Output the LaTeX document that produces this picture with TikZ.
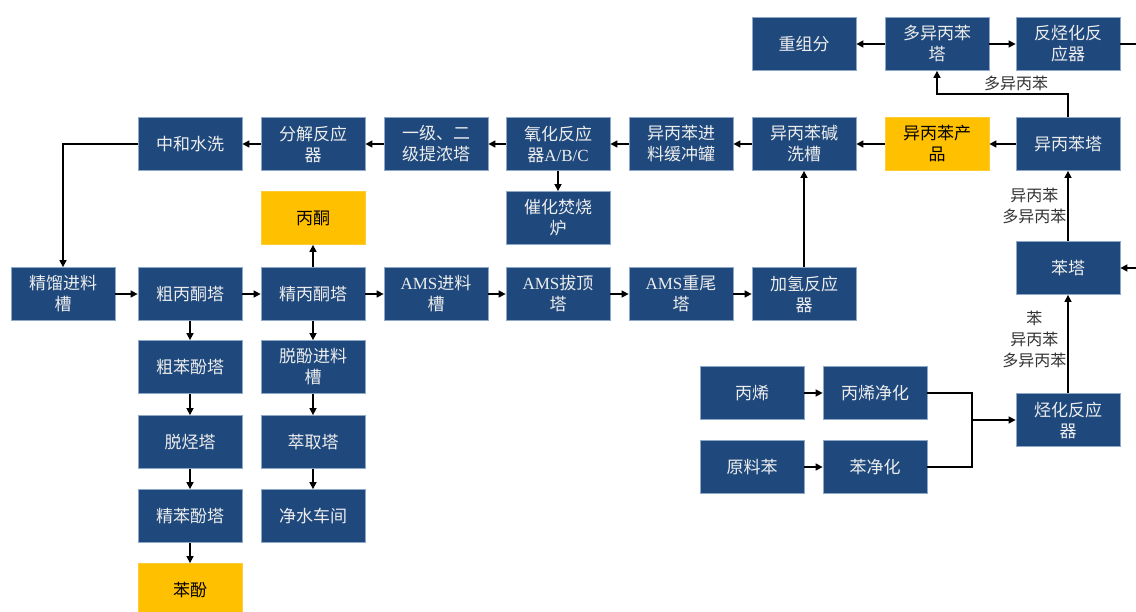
\documentclass[tikz,border=0pt]{standalone}
\usepackage{fontspec}
\setmainfont{Liberation Serif}
\newfontfamily\cjk{Noto Sans CJK SC}
\newcommand\latn[1]{{\rmfamily #1}}
\usetikzlibrary{arrows.meta}
\definecolor{boxblue}{HTML}{1F497D}
\definecolor{boxedge}{HTML}{8EA9C8}
\definecolor{prodyellow}{HTML}{FFC000}
\definecolor{labgray}{HTML}{333333}
\tikzset{
  box/.style={draw=boxedge, line width=0.8pt, fill=boxblue, text=white!93!black,
    minimum width=104pt, minimum height=53pt, align=center, inner sep=0pt,
    font=\cjk\fontsize{17}{21}\selectfont},
  prod/.style={box, fill=prodyellow, draw=prodyellow!80!white, text=black},
  arr/.style={line width=1.5pt, -{Triangle[length=7pt,width=7pt]}},
  ln/.style={line width=1.5pt},
  flowlab/.style={font=\cjk\fontsize{16}{21}\selectfont, text=labgray, align=center, inner sep=1pt}
}
\begin{document}
\begin{tikzpicture}[x=1pt,y=-1pt]
\useasboundingbox (0,0) rectangle (1136,612);
% row 1
\node[box] (zzf) at (804,44) {重组分};
\node[box] (dyb) at (937,44) {多异丙苯\\塔};
\node[box] (fth) at (1068,44) {反烃化反\\应器};
% row 2
\node[box] (zhsx) at (190,144) {中和水洗};
\node[box] (fjfy) at (313,144) {分解反应\\器};
\node[box] (tnt) at (436,144) {一级、二\\级提浓塔};
\node[box] (yhfy) at (558,144) {氧化反应\\器\latn{A/B/C}};
\node[box] (jlhc) at (681,144) {异丙苯进\\料缓冲罐};
\node[box] (jxc) at (804,144) {异丙苯碱\\洗槽};
\node[prod] (ycp) at (937,144) {异丙苯产\\品};
\node[box] (ycbt) at (1068,144) {异丙苯塔};
% middle
\node[box] (chfs) at (558,218) {催化焚烧\\炉};
\node[prod] (bt) at (313,218) {丙酮};
\node[box] (bent) at (1068,268) {苯塔};
% row 3
\node[box] (jljl) at (63,294) {精馏进料\\槽};
\node[box] (cbt) at (190,294) {粗丙酮塔};
\node[box] (jbt) at (313,294) {精丙酮塔};
\node[box] (amsj) at (436,294) {\latn{AMS}进料\\槽};
\node[box] (amsb) at (558,294) {\latn{AMS}拔顶\\塔};
\node[box] (amsz) at (681,294) {\latn{AMS}重尾\\塔};
\node[box] (jqfy) at (804,294) {加氢反应\\器};
% left columns
\node[box] (cbf) at (190,367) {粗苯酚塔};
\node[box] (tjt) at (190,442) {脱烃塔};
\node[box] (jbf) at (190,516) {精苯酚塔};
\node[prod] (bf) at (190,590) {苯酚};
\node[box] (tfjl) at (313,367) {脱酚进料\\槽};
\node[box] (cqt) at (313,442) {萃取塔};
\node[box] (jscj) at (313,516) {净水车间};
% bottom right
\node[box] (bx) at (752,393) {丙烯};
\node[box] (bxjh) at (875,393) {丙烯净化};
\node[box] (ylb) at (752,467) {原料苯};
\node[box] (bjh) at (875,467) {苯净化};
\node[box] (thfy) at (1068,420) {烃化反应\\器};
% coordinates
\coordinate (e1) at (1136,44);
\coordinate (e2) at (1136,268);
\coordinate (k1) at (937,94);
\coordinate (k2) at (63,144);
\coordinate (jn) at (972,420);
% connectors row 1
\draw[arr] (dyb) -- (zzf);
\draw[arr] (dyb) -- (fth);
\draw[ln] (fth.east) -- (e1);
% row 2
\draw[arr] (ycbt) -- (ycp);
\draw[arr] (ycp) -- (jxc);
\draw[arr] (jxc) -- (jlhc);
\draw[arr] (jlhc) -- (yhfy);
\draw[arr] (yhfy) -- (tnt);
\draw[arr] (tnt) -- (fjfy);
\draw[arr] (fjfy) -- (zhsx);
\draw[arr] (zhsx.west) -- (k2) -- (jljl.north);
\draw[arr] (yhfy) -- (chfs);
% row 3
\draw[arr] (jljl) -- (cbt);
\draw[arr] (cbt) -- (jbt);
\draw[arr] (jbt) -- (amsj);
\draw[arr] (amsj) -- (amsb);
\draw[arr] (amsb) -- (amsz);
\draw[arr] (amsz) -- (jqfy);
\draw[arr] (jqfy) -- (jxc);
\draw[arr] (jbt) -- (bt);
% columns
\draw[arr] (cbt) -- (cbf);
\draw[arr] (cbf) -- (tjt);
\draw[arr] (tjt) -- (jbf);
\draw[arr] (jbf) -- (bf);
\draw[arr] (jbt) -- (tfjl);
\draw[arr] (tfjl) -- (cqt);
\draw[arr] (cqt) -- (jscj);
% bottom right
\draw[arr] (bx) -- (bxjh);
\draw[arr] (ylb) -- (bjh);
\draw[ln] (bxjh.east) -| (jn);
\draw[ln] (bjh.east) -| (jn);
\draw[arr] (jn) -- (thfy.west);
\draw[arr] (thfy) -- node[flowlab, anchor=east, pos=0.55] {苯\\异丙苯\\多异丙苯} (bent);
\draw[arr] (bent) -- node[flowlab, anchor=east, pos=0.5] {异丙苯\\多异丙苯} (ycbt);
\draw[arr] (e2) -- (bent.east);
\draw[arr] (ycbt.north) |- (k1) -- (dyb.south);
\node[flowlab, anchor=south] (lab1) at (1016,92) {多异丙苯};
\end{tikzpicture}
\end{document}
